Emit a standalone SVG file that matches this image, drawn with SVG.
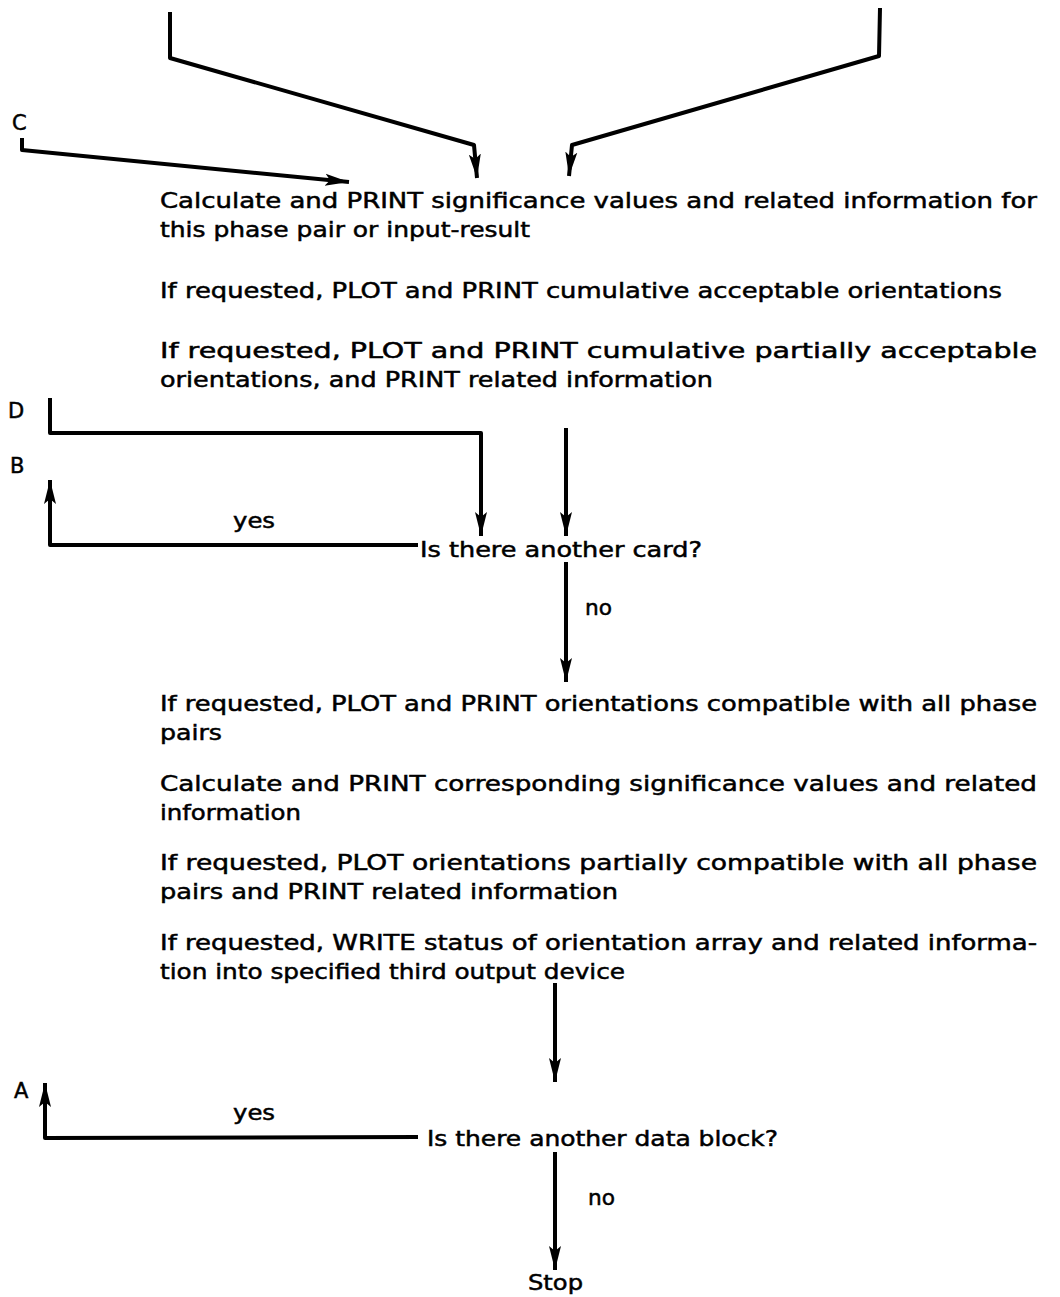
<svg xmlns="http://www.w3.org/2000/svg" width="1060" height="1297" viewBox="0 0 1060 1297">
<style>
text{font-family:"DejaVu Sans","Liberation Sans",sans-serif;font-size:21px;fill:#000;stroke:#000;stroke-width:0.5}
.ln{fill:none;stroke:#000;stroke-width:4;stroke-linejoin:round}
</style>
<defs>
<marker id="ah" markerUnits="userSpaceOnUse" markerWidth="26" markerHeight="16" viewBox="0 -8 26 16" refX="24" refY="0" orient="auto">
<path d="M0,-6 L24,0 L0,6 L5,0 z" fill="#000"/>
</marker>
</defs>
<rect width="1060" height="1297" fill="#fff"/>
<g id="connectors">
<path class="ln" d="M170,12 L170,58 L474,145 L477,178" marker-end="url(#ah)"/>
<path class="ln" d="M880,8 L879,56 L572,145 L569,176" marker-end="url(#ah)"/>
<path class="ln" d="M22,138 L22,150 L349,182" marker-end="url(#ah)"/>
<path class="ln" d="M50,398 L50,433 L481,433 L481,536" marker-end="url(#ah)"/>
<path class="ln" d="M566,428 L566,536" marker-end="url(#ah)"/>
<path class="ln" d="M418,545 L50,545 L50,480" marker-end="url(#ah)"/>
<path class="ln" d="M566,562 L566,682" marker-end="url(#ah)"/>
<path class="ln" d="M555,983 L555,1082" marker-end="url(#ah)"/>
<path class="ln" d="M418,1137 L45,1138 L45,1083" marker-end="url(#ah)"/>
<path class="ln" d="M555,1152 L555,1270" marker-end="url(#ah)"/>
</g>
<g id="labels">
<text x="12" y="130">C</text>
<text x="8" y="418">D</text>
<text x="10" y="473">B</text>
<text x="14" y="1098">A</text>
<text x="233" y="528" textLength="42" lengthAdjust="spacingAndGlyphs">yes</text>
<text x="233" y="1120" textLength="42" lengthAdjust="spacingAndGlyphs">yes</text>
<text x="585" y="615" textLength="27" lengthAdjust="spacingAndGlyphs">no</text>
<text x="588" y="1205" textLength="27" lengthAdjust="spacingAndGlyphs">no</text>
</g>
<g id="n1"><text x="160" y="208" textLength="877" lengthAdjust="spacingAndGlyphs">Calculate and PRINT significance values and related information for</text><text x="160" y="237" textLength="370" lengthAdjust="spacingAndGlyphs">this phase pair or input-result</text></g>
<g id="n2"><text x="160" y="298" textLength="842" lengthAdjust="spacingAndGlyphs">If requested, PLOT and PRINT cumulative acceptable orientations</text></g>
<g id="n3"><text x="160" y="358" textLength="877" lengthAdjust="spacingAndGlyphs">If requested, PLOT and PRINT cumulative partially acceptable</text><text x="160" y="387" textLength="553" lengthAdjust="spacingAndGlyphs">orientations, and PRINT related information</text></g>
<g id="d1"><text x="420" y="557" textLength="282" lengthAdjust="spacingAndGlyphs">Is there another card?</text></g>
<g id="n4"><text x="160" y="711" textLength="877" lengthAdjust="spacingAndGlyphs">If requested, PLOT and PRINT orientations compatible with all phase</text><text x="160" y="740" textLength="62" lengthAdjust="spacingAndGlyphs">pairs</text></g>
<g id="n5"><text x="160" y="791" textLength="877" lengthAdjust="spacingAndGlyphs">Calculate and PRINT corresponding significance values and related</text><text x="160" y="820" textLength="141" lengthAdjust="spacingAndGlyphs">information</text></g>
<g id="n6"><text x="160" y="870" textLength="877" lengthAdjust="spacingAndGlyphs">If requested, PLOT orientations partially compatible with all phase</text><text x="160" y="899" textLength="458" lengthAdjust="spacingAndGlyphs">pairs and PRINT related information</text></g>
<g id="n7"><text x="160" y="950" textLength="877" lengthAdjust="spacingAndGlyphs">If requested, WRITE status of orientation array and related informa-</text><text x="160" y="979" textLength="465" lengthAdjust="spacingAndGlyphs">tion into specified third output device</text></g>
<g id="d2"><text x="427" y="1146" textLength="351" lengthAdjust="spacingAndGlyphs">Is there another data block?</text></g>
<g id="stop"><text x="528" y="1290" textLength="55" lengthAdjust="spacingAndGlyphs">Stop</text></g>
</svg>
